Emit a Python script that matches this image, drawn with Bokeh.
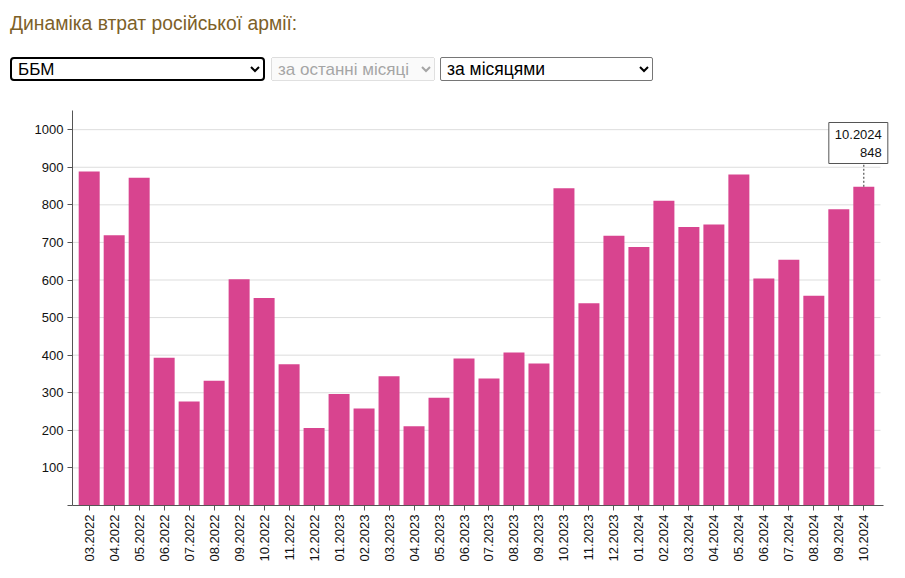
from bokeh.plotting import figure
from bokeh.models import (Range1d, FixedTicker, Label, Div)
from bokeh.layouts import column
from bokeh.embed import file_html
from bokeh.resources import INLINE
import math

# ---- data ----
months = ["03.2022", "04.2022", "05.2022", "06.2022", "07.2022", "08.2022",
          "09.2022", "10.2022", "11.2022", "12.2022",
          "01.2023", "02.2023", "03.2023", "04.2023", "05.2023", "06.2023",
          "07.2023", "08.2023", "09.2023", "10.2023", "11.2023", "12.2023",
          "01.2024", "02.2024", "03.2024", "04.2024", "05.2024", "06.2024",
          "07.2024", "08.2024", "09.2024", "10.2024"]
values = [889, 719, 872, 393, 277, 332, 602, 552, 376, 206,
          297, 258, 344, 211, 287, 391, 338, 407, 378, 844, 538, 718,
          688, 811, 741, 748, 881, 604, 654, 558, 788, 848]
y_ticks = [0, 100, 200, 300, 400, 500, 600, 700, 800, 900, 1000]

title_text = "Динаміка втрат російської армії:"
select1 = ["ББМ"]
select2 = ["за останні місяці"]
select3 = ["за місяцями"]

FONT = "Liberation Sans, Arial, sans-serif"
BAR = "#d8448f"
Y_END = 1051

# ---- header (title + selectors) ----
def opts(lst):
    return "".join(f"<option>{o}</option>" for o in lst)

header_html = f"""
<div style="position:relative;width:881px;height:95px;font-family:{FONT};">
  <div style="position:absolute;left:2px;top:6px;font-size:19.3px;line-height:19px;color:#7d6128;white-space:nowrap;">{title_text}</div>
  <select style="position:absolute;left:2px;top:49px;width:255px;height:24px;box-sizing:border-box;
      border:2px solid #000;border-radius:4px;font-family:{FONT};font-size:17px;color:#000;background:#fff;padding:0 2px;">{opts(select1)}</select>
  <select disabled style="position:absolute;left:263px;top:49px;width:164px;height:24px;box-sizing:border-box;
      font-family:{FONT};font-size:17px;padding:0 2px;">{opts(select2)}</select>
  <select style="position:absolute;left:432px;top:49px;width:213px;height:24px;box-sizing:border-box;
      border:1px solid #767676;border-radius:2px;font-family:{FONT};font-size:17.5px;color:#000;background:#fff;padding:0 2px;">{opts(select3)}</select>
</div>
"""
header = Div(text=header_html, width=881, height=95, margin=(8, 0, 0, 8))

# ---- chart ----
FIG_W, FIG_H = 889, 467
MB_L, MB_R, MB_T, MB_B = 64, 8, 7, 65
n = len(months)
idx = list(range(n))
pad = 0.668                # band padding (fraction of a band) at each side
x_start = -pad
x_plot_end = n - 1 + pad   # where gridlines end
x_end = x_plot_end + 0.36  # extra room on the right for the tooltip box

p = figure(x_range=Range1d(x_start, x_end), y_range=Range1d(0, Y_END),
           width=FIG_W, height=FIG_H, output_backend="svg", toolbar_location=None,
           min_border_left=MB_L, min_border_right=MB_R, min_border_top=MB_T,
           min_border_bottom=MB_B, margin=(0, 0, 0, 8))
p.outline_line_color = None
p.background_fill_color = "#ffffff"
p.border_fill_color = "#ffffff"

# horizontal gridlines (ending at the plotting area)
grid_y = y_ticks[1:]
p.segment(x0=[x_start] * len(grid_y), y0=grid_y,
          x1=[x_plot_end] * len(grid_y), y1=grid_y,
          line_color="#dddddd", line_width=1)

p.vbar(x=idx, top=values, width=0.84, color=BAR, line_color=None)

# axes
axis_col = "#555555"
for ax in (p.xaxis[0], p.yaxis[0]):
    ax.axis_line_color = axis_col
    ax.major_tick_line_color = axis_col
    ax.minor_tick_line_color = None
    ax.major_tick_out = 5
    ax.major_tick_in = 0
    ax.major_label_standoff = 4
    ax.major_label_text_font = FONT
    ax.major_label_text_font_size = "13px"
    ax.major_label_text_color = "#111111"

p.xaxis.ticker = FixedTicker(ticks=idx)
p.xaxis.major_label_overrides = {i: m for i, m in zip(idx, months)}
p.xaxis.major_label_orientation = math.pi / 2
p.xaxis.bounds = (x_start, x_plot_end + 0.12)
p.yaxis.ticker = FixedTicker(ticks=y_ticks)
p.yaxis.major_label_overrides = {0: ""}

p.xgrid.grid_line_color = None
p.ygrid.grid_line_color = None

# tooltip-like label for the last month
frame_h = FIG_H - MB_T - MB_B
last_x = idx[-1]
box_top_px = 12
box_h_px = 40
y_box_bottom = Y_END - (box_top_px + box_h_px) * Y_END / frame_h
p.segment(x0=[last_x], y0=[values[-1]], x1=[last_x], y1=[y_box_bottom],
          line_color="#333333", line_width=1, line_dash="2 2")

tip = Label(x=last_x, y=Y_END, x_offset=24, y_offset=-box_top_px,
            text=f"{months[-1]}\n{values[-1]}",
            text_align="right", text_baseline="top",
            text_font=FONT, text_font_size="13px", text_color="#111111",
            background_fill_color="#ffffff", border_line_color="#555555",
            border_line_width=1, padding=(6, 4))
p.add_layout(tip)

layout = column(header, p, spacing=0)
open("out.html", "w").write(file_html(layout, INLINE))
